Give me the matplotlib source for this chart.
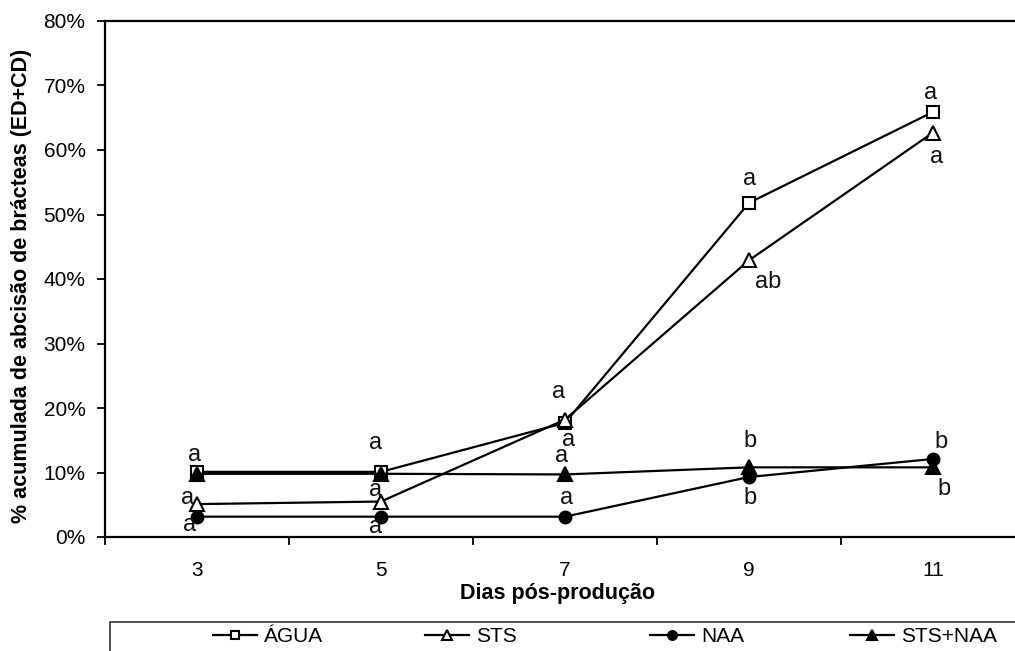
# -*- coding: utf-8 -*-

import numpy as np
import matplotlib
matplotlib.use("Agg")
from matplotlib import pyplot as plt
from matplotlib.ticker import FixedLocator, FuncFormatter
from matplotlib.patches import Rectangle

plt.rcParams['font.family'] = ['Liberation Sans', 'DejaVu Sans']

# Dias pós-produção (eixo de categorias)
dias = ['3', '5', '7', '9', '11']

# % acumulada de abscisão de brácteas por tratamento
agua = [10.1, 10.1, 17.7, 51.8, 65.9]
sts = [5.1, 5.5, 18.2, 42.9, 62.7]
naa = [3.15, 3.15, 3.15, 9.3, 12.1]
sts_naa = [9.8, 9.8, 9.7, 10.8, 10.8]

nomes = ['ÁGUA', 'STS', 'NAA', 'STS+NAA']

# letras de comparação de médias em cada dia
letras_agua = ['a', 'a', 'a', 'a', 'a']
letras_sts = ['a', 'a', 'a', 'ab', 'a']
letras_naa = ['a', 'a', 'a', 'b', 'b']
letras_sts_naa = [None, None, 'a', 'b', 'b']

# deslocamento das letras em pixels (dx, dy para baixo)
desl_agua = [(-2, -17), (-5, -29), (4, 17), (1, -24), (-2, -19)]
desl_sts = [(-9, -6), (-5, -12), (-6, -28), (19, 22), (4, 24)]
desl_naa = [(-7, 8), (-5, 10), (2, -19), (1, 21), (8, -17)]
desl_sts_naa = [None, None, (-3, -18), (1, -26), (11, 22)]

W, H = 1015, 651
fig = plt.figure(figsize=(W / 100, H / 100), dpi=100)
# área do gráfico passa um pouco da borda direita
ax = fig.add_axes([105 / W, (H - 537) / H, 920 / W, 516 / H])

x = np.arange(len(dias))
estilos = [
    dict(marker='s', mfc='white', ms=8),
    dict(marker='^', mfc='white', ms=9.5),
    dict(marker='o', mfc='black', ms=8.5),
    dict(marker='^', mfc='black', ms=9.5),
]
series = [agua, sts, naa, sts_naa]
letras = [letras_agua, letras_sts, letras_naa, letras_sts_naa]
desl = [desl_agua, desl_sts, desl_naa, desl_sts_naa]

linhas = []
for serie, est, nome in zip(series, estilos, nomes):
    l, = ax.plot(x, np.array(serie) / 100, color='black', lw=1.6,
                 mec='black', mew=1.5, label=nome, **est)
    linhas.append(l)

for serie, lets, ds in zip(series, letras, desl):
    for i, (v, t, d) in enumerate(zip(serie, lets, ds)):
        if t is None:
            continue
        ax.annotate(t, xy=(x[i], v / 100), xytext=(d[0], -d[1]),
                    textcoords='offset pixels', ha='center', va='center',
                    fontsize=17, color='#111111')

ax.set_xlim(-0.5, len(dias) - 0.5)
ax.set_ylim(0, 0.8)

# marcas entre as categorias, rótulos no centro
ax.xaxis.set_major_locator(FixedLocator(np.arange(-0.5, len(dias), 1.0)))
ax.xaxis.set_major_formatter(FuncFormatter(lambda v, p: ''))
ax.set_xticks(x, dias, minor=True)
ax.tick_params(axis='x', which='major', direction='out', length=6, width=1.3)
ax.tick_params(axis='x', which='minor', length=0, pad=17, labelsize=15)

ax.set_yticks(np.arange(0, 0.81, 0.1))
ax.yaxis.set_major_formatter(FuncFormatter(lambda v, p: '%d%%' % round(v * 100)))
ax.tick_params(axis='y', direction='out', length=6, width=1.3, pad=8, labelsize=15)

for s in ax.spines.values():
    s.set_linewidth(1.6)
    s.set_color('black')

fig.text(22 / W, 1 - 286 / H, '% acumulada de abcisão de brácteas (ED+CD)',
         rotation=90, ha='center', va='center', fontsize=15.5, fontweight='bold')
fig.text(557 / W, 1 - 593 / H, 'Dias pós-produção',
         ha='center', va='center', fontsize=15.5, fontweight='bold')

# legenda em caixa abaixo do gráfico
fig.add_artist(Rectangle((110 / W, -0.05), 1.0, (H - 622) / H + 0.05,
                         transform=fig.transFigure, fill=False,
                         edgecolor='#333333', lw=1.2))
pos_leg = [213, 425, 650, 850]
for l, nome, px in zip(linhas, nomes, pos_leg):
    fig.legend([l], [nome], loc='center left',
               bbox_to_anchor=(px / W, 1 - 637 / H), frameon=False,
               borderpad=0, borderaxespad=0, handlelength=2.1,
               handletextpad=0.35, markerscale=0.75, fontsize=15)

fig.savefig('out.png', dpi=100)
